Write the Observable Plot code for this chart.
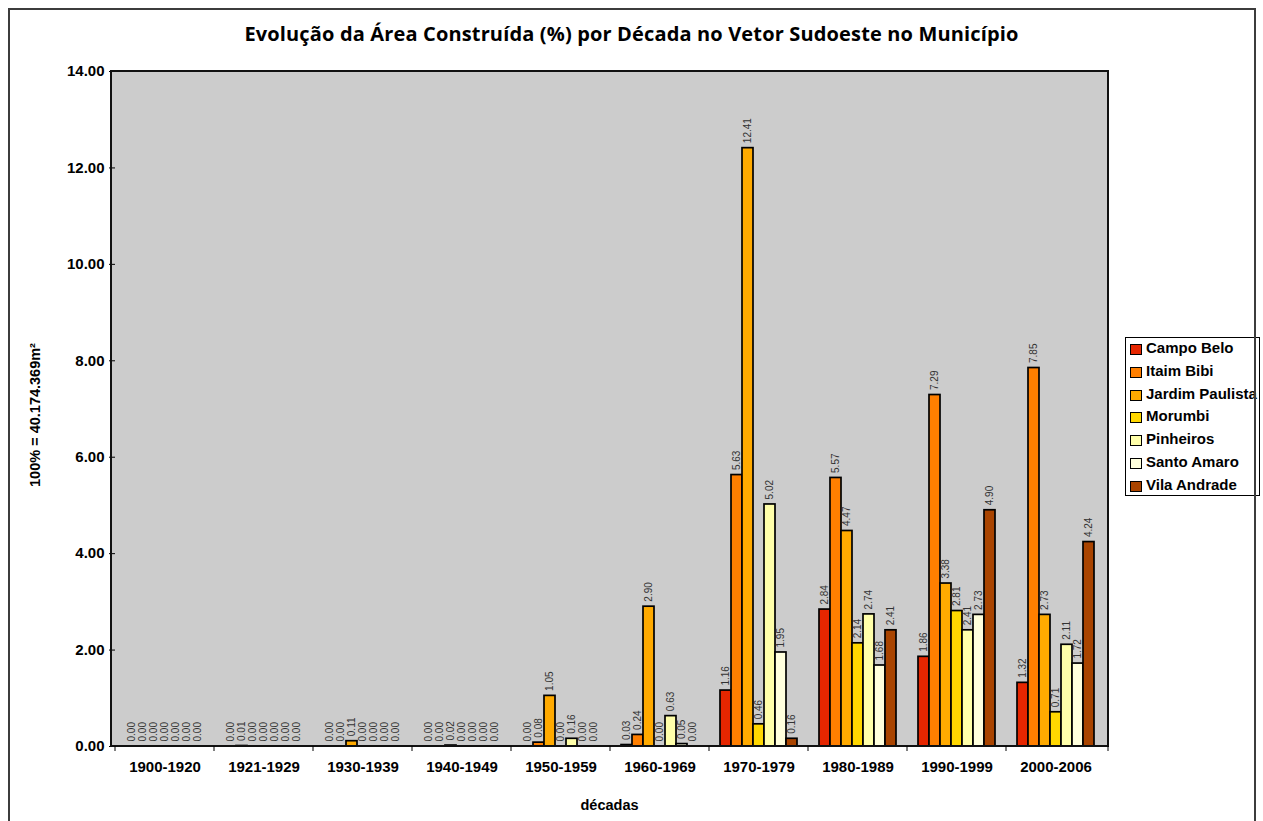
<!DOCTYPE html>
<html><head><meta charset="utf-8">
<script src="https://cdn.jsdelivr.net/npm/d3@7"></script>
<script src="https://cdn.jsdelivr.net/npm/@observablehq/plot@0.6"></script>
<style>
body{margin:0;background:#fff;}
#wrap{position:relative;width:1263px;height:821px;overflow:hidden;font-family:"Liberation Sans",Arial,sans-serif;}
#wrap svg{position:absolute;left:0;top:0;}
#frame{position:absolute;left:8px;top:8px;width:1248px;height:840px;border:2px solid #3c3c3c;box-sizing:border-box;pointer-events:none;}
#title{position:absolute;left:0;top:24px;width:1263px;text-align:center;font-family:"Open Sans",sans-serif;font-weight:700;font-size:20px;letter-spacing:0.15px;line-height:20px;color:#000;white-space:nowrap;}
.axt{position:absolute;font-weight:bold;font-size:14.5px;line-height:15px;color:#000;white-space:nowrap;}
#legend{position:absolute;left:1125px;top:337px;width:135px;height:159px;border:1px solid #000;box-sizing:border-box;background:#fff;}
.lrow{position:absolute;left:4px;height:12px;font-weight:bold;font-size:15px;white-space:nowrap;}
.sw{position:absolute;left:0;top:0;width:12px;height:11px;border:1px solid #000;box-sizing:border-box;}
.lt{position:absolute;left:16px;top:-4px;line-height:15px;color:#000;}
</style></head><body><div id="wrap"></div>
<script>
const decades = ["1900-1920","1921-1929","1930-1939","1940-1949","1950-1959","1960-1969","1970-1979","1980-1989","1990-1999","2000-2006"];
const seriesNames = ["Campo Belo","Itaim Bibi","Jardim Paulista","Morumbi","Pinheiros","Santo Amaro","Vila Andrade"];
const seriesColors = ["#E62600","#FF7F00","#FFAA00","#FFD700","#FFFFAA","#FFFFDD","#A94400"];
const campoBelo      = [0, 0,    0,    0,    0,    0.03, 1.16,  2.84, 1.86, 1.32];
const itaimBibi      = [0, 0.01, 0,    0,    0.08, 0.24, 5.63,  5.57, 7.29, 7.85];
const jardimPaulista = [0, 0,    0.11, 0.02, 1.05, 2.90, 12.41, 4.47, 3.38, 2.73];
const morumbi        = [0, 0,    0,    0,    0,    0,    0.46,  2.14, 2.81, 0.71];
const pinheiros      = [0, 0,    0,    0,    0.16, 0.63, 5.02,  2.74, 2.41, 2.11];
const santoAmaro     = [0, 0,    0,    0,    0,    0.05, 1.95,  1.68, 2.73, 1.72];
const vilaAndrade    = [0, 0,    0,    0,    0,    0,    0.16,  2.41, 4.90, 4.24];
const yTicks = [0, 2, 4, 6, 8, 10, 12, 14];
const titleText = "Evolução da Área Construída (%) por Década no Vetor Sudoeste no Município";
const yLabel = "100% = 40.174.369m²";
const xLabel = "décadas";

const seriesValues = [campoBelo, itaimBibi, jardimPaulista, morumbi, pinheiros, santoAmaro, vilaAndrade];
const data = [];
decades.forEach((d, i) => seriesValues.forEach((vals, j) => data.push({decade: d, series: seriesNames[j], value: vals[i]})));

const chart = Plot.plot({
  width: 1263, height: 821,
  marginLeft: 111, marginRight: 155, marginTop: 71, marginBottom: 75,
  style: {background: "transparent", fontFamily: "'Liberation Sans', Arial, sans-serif", fontSize: "15px", fontWeight: "bold", color: "#000"},
  fx: {domain: decades, padding: 0, label: null, axis: "bottom", tickSize: 0, tickPadding: 15},
  x: {domain: seriesNames, paddingInner: 0, paddingOuter: 0.72, axis: null},
  y: {domain: [0, 14], ticks: yTicks, tickFormat: d => d.toFixed(2), label: null, tickSize: 6, tickPadding: 5},
  color: {domain: seriesNames, range: seriesColors},
  marks: [
    Plot.barY(data, {fx: "decade", x: "series", y: "value", fill: "series", stroke: "#000", strokeWidth: 1.7}),
    Plot.text(data, {fx: "decade", x: "series", y: "value", text: d => d.value.toFixed(2), rotate: -90, textAnchor: "start", dy: -5, fontSize: 10, fontWeight: "normal", fill: "#333"})
  ]
});

const wrap = document.getElementById("wrap");
wrap.appendChild(chart);

// plot area background, border and category ticks from the plot's scales
const svg = d3.select(chart);
const fxS = chart.scale("fx"), yS = chart.scale("y");
const left = fxS.range[0], right = fxS.range[1];
const yb = yS.apply(0), yt = yS.apply(14);
svg.insert("rect", "g").attr("x", left).attr("y", yt).attr("width", right - left).attr("height", yb - yt).attr("fill", "#cccccc");
svg.append("rect").attr("x", left).attr("y", yt).attr("width", right - left).attr("height", yb - yt)
  .attr("fill", "none").attr("stroke", "#111").attr("stroke-width", 2);
const bounds = decades.map(d => fxS.apply(d)).concat([right]);
svg.append("g").selectAll("line").data(bounds).join("line")
  .attr("x1", d => d).attr("x2", d => d).attr("y1", yb).attr("y2", yb + 5)
  .attr("stroke", "#000").attr("stroke-width", 1);

// title
const t = document.createElement("div"); t.id = "title"; t.textContent = titleText; wrap.appendChild(t);
// axis titles
const yl = document.createElement("div"); yl.className = "axt"; yl.textContent = yLabel;
yl.style.left = "35px"; yl.style.top = "415px"; yl.style.transform = "translate(-50%,-50%) rotate(-90deg)";
wrap.appendChild(yl);
const xl = document.createElement("div"); xl.className = "axt"; xl.textContent = xLabel;
xl.style.left = ((left + right) / 2) + "px"; xl.style.top = "805px"; xl.style.transform = "translate(-50%,-50%)";
wrap.appendChild(xl);
// legend
const lg = document.createElement("div"); lg.id = "legend";
seriesNames.forEach((s, j) => {
  const r = document.createElement("div"); r.className = "lrow"; r.style.top = (6 + j * 22.8) + "px";
  const sw = document.createElement("div"); sw.className = "sw"; sw.style.background = seriesColors[j];
  const lt = document.createElement("div"); lt.className = "lt"; lt.textContent = s;
  r.appendChild(sw); r.appendChild(lt); lg.appendChild(r);
});
wrap.appendChild(lg);
const fr = document.createElement("div"); fr.id = "frame"; wrap.appendChild(fr);
</script>
</body></html>
